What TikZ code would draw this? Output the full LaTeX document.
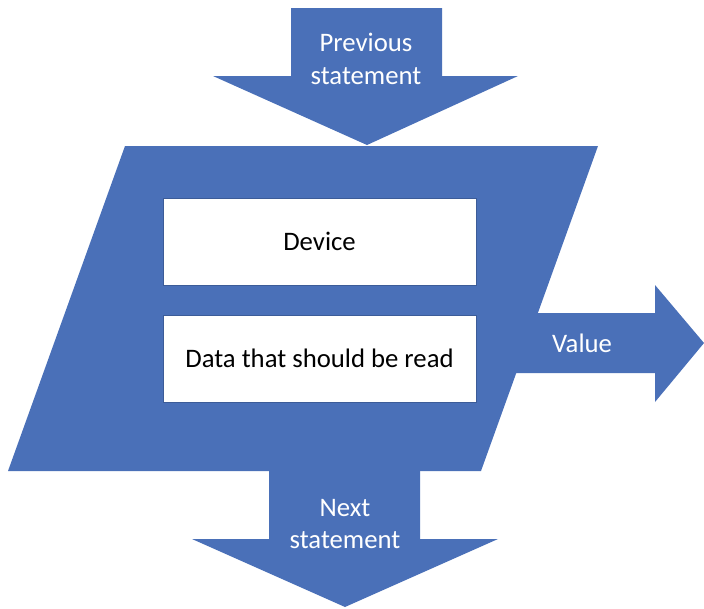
\documentclass[tikz,border=0pt]{standalone}
\usepackage{fontspec}
\setmainfont{Carlito}
\definecolor{flowblue}{HTML}{4A70B8}
\definecolor{fieldline}{HTML}{3C5C98}

\begin{document}
\begin{tikzpicture}[x=0.025cm,y=-0.025cm,
  lbl/.style={text=white,align=center,font=\fontsize{19}{23}\selectfont},
  field/.style={fill=white,draw=fieldline,line width=0.5pt,minimum width=7.825cm,
    minimum height=2.175cm,inner sep=0pt,font=\fontsize{19}{23}\selectfont}]
\useasboundingbox (0,0) rectangle (704,608);

% read block
\fill[flowblue] (125,146) -- (598,146) -- (481,471) -- (8,471) -- cycle;

% arrows in and out
\fill[flowblue] (291,8) -- (442,8) -- (442,76) -- (518,76) -- (367,145)
  -- (213,76) -- (291,76) -- cycle;
\fill[flowblue] (500,313) -- (655,313) -- (655,285) -- (704,343) -- (655,402)
  -- (655,373) -- (500,373) -- cycle;
\fill[flowblue] (269,465) -- (420,465) -- (420,539) -- (498,539) -- (345,607)
  -- (192,539) -- (269,539) -- cycle;

\node[field] (device) at (319.5,241.5) {Device};
\node[field] (data) at (319.5,358.5) {Data that should be read};

\node[lbl] (prev) at (366,59) {Previous\\statement};
\node[lbl] (next) at (345,524) {Next\\statement};
\node[lbl] (value) at (582,343) {Value};
\end{tikzpicture}
\end{document}
